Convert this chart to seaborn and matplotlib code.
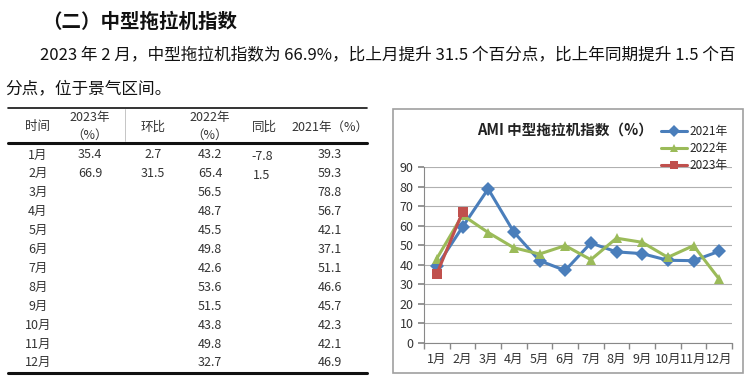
import pandas as pd
import matplotlib.pyplot as plt
import seaborn as sns
from matplotlib.patches import Rectangle
from matplotlib.lines import Line2D

months = ['1月', '2月', '3月', '4月', '5月', '6月', '7月', '8月', '9月', '10月', '11月', '12月']
idx_2021 = [39.3, 59.3, 78.8, 56.7, 42.1, 37.1, 51.1, 46.6, 45.7, 42.3, 42.1, 46.9]
idx_2022 = [43.2, 65.4, 56.5, 48.7, 45.5, 49.8, 42.6, 53.6, 51.5, 43.8, 49.8, 32.7]
idx_2023 = [35.4, 66.9]
mom = ['2.7', '31.5']
yoy = ['-7.8', '1.5']

sns.set_theme(style='white')
plt.rcParams['font.family'] = ['Noto Sans CJK SC', 'DejaVu Sans']

W, H = 750, 379
fig = plt.figure(figsize=(7.5, 3.79), dpi=100)


def P(x, y):
    return x / W, 1 - y / H


# heading and paragraph
fig.text(*P(42, 22), '（二）中型拖拉机指数', fontsize=14, fontweight='bold',
         va='center', ha='left', color='#111111')
fig.text(*P(40, 56), '2023 年 2 月，中型拖拉机指数为 66.9%，比上月提升 31.5 个百分点，比上年同期提升 1.5 个百',
         fontsize=12, va='center', ha='left', color='#111111')
fig.text(*P(5, 89), '分点，位于景气区间。', fontsize=12, va='center', ha='left', color='#111111')

# table
def hline(y, x0, x1, lw, color='#111111'):
    fig.add_artist(Line2D([x0 / W, x1 / W], [1 - y / H, 1 - y / H], lw=lw, color=color))

hline(108, 8, 367, 1.2)
hline(143, 8, 367, 2.2)
hline(373, 8, 367, 2.2)
fig.add_artist(Line2D([125 / W, 125 / W], [1 - 109 / H, 1 - 141 / H], lw=0.6, color='#bbbbbb'))

hdr_kw = dict(fontsize=9, ha='center', va='center', color='#333333')
fig.text(*P(38, 127), '时间', **hdr_kw)
fig.text(*P(90, 117), '2023年', **hdr_kw)
fig.text(*P(90, 135), '（%）', **hdr_kw)
fig.text(*P(153, 127), '环比', **hdr_kw)
fig.text(*P(210, 117), '2022年', **hdr_kw)
fig.text(*P(210, 135), '（%）', **hdr_kw)
fig.text(*P(264, 127), '同比', **hdr_kw)
fig.text(*P(330, 127), '2021年（%）', **hdr_kw)

for i, m in enumerate(months):
    y = 155 + i * 18.9
    fig.text(*P(38, y), m, **hdr_kw)
    fig.text(*P(210, y), f'{idx_2022[i]:.1f}', **hdr_kw)
    fig.text(*P(330, y), f'{idx_2021[i]:.1f}', **hdr_kw)
    if i < len(idx_2023):
        fig.text(*P(90, y), f'{idx_2023[i]:.1f}', **hdr_kw)
        fig.text(*P(153, y), mom[i], **hdr_kw)
        fig.text(*P(262, y + 2), yoy[i], **hdr_kw)

# chart frame
fig.add_artist(Rectangle(P(393, 373), 350 / W, 264 / H, fill=False,
                         edgecolor='#a0a0a0', lw=1.2, transform=fig.transFigure))

ax = fig.add_axes([424 / W, 1 - 343 / H, 308 / W, 176 / H])

df = pd.concat([
    pd.DataFrame({'month': range(12), 'value': idx_2021, 'year': '2021年'}),
    pd.DataFrame({'month': range(12), 'value': idx_2022, 'year': '2022年'}),
    pd.DataFrame({'month': range(len(idx_2023)), 'value': idx_2023, 'year': '2023年'}),
])
palette = {'2021年': '#4A7EBB', '2022年': '#9BBB59', '2023年': '#C0504D'}
markers = {'2021年': 'D', '2022年': '^', '2023年': 's'}
sns.lineplot(data=df, x='month', y='value', hue='year', style='year', palette=palette,
             markers=markers, dashes=False, lw=2.2, markersize=7, markeredgewidth=0,
             legend=False, ax=ax)

ax.set_xlim(-0.5, 11.5)
ax.set_ylim(0, 90)
ax.set_yticks(range(0, 91, 10))
ax.set_xticks(range(12))
ax.set_xticklabels(months)
ax.set_xticks([i - 0.5 for i in range(13)], minor=True)
ax.tick_params(axis='x', which='major', length=0, pad=7, labelsize=9, colors='#333333')
ax.tick_params(axis='x', which='minor', length=4, color='#888888', direction='out', bottom=True)
ax.tick_params(axis='y', length=4, color='#888888', direction='out', left=True, labelsize=9,
               labelcolor='#333333')
ax.yaxis.grid(True, color='#b0b0b0', lw=0.8)
ax.set_axisbelow(True)
for s in ['top', 'right']:
    ax.spines[s].set_visible(False)
for s in ['left', 'bottom']:
    ax.spines[s].set_color('#888888')
    ax.spines[s].set_linewidth(0.8)
ax.set_xlabel('')
ax.set_ylabel('')
ax.patch.set_alpha(0)

fig.text(*P(565, 130), 'AMI 中型拖拉机指数（%）', fontsize=10.5, fontweight='bold',
         ha='center', va='center', color='#222222')

handles = [Line2D([], [], color=palette[k], marker=markers[k], lw=2.2, markersize=6,
                  markeredgewidth=0) for k in palette]
fig.legend(handles, list(palette), loc='upper left', bbox_to_anchor=P(655, 119),
           frameon=False, fontsize=8.5, handlelength=2.2, handletextpad=0.2,
           labelspacing=0.35, borderpad=0)

fig.savefig('out.png', dpi=100, facecolor='white')
